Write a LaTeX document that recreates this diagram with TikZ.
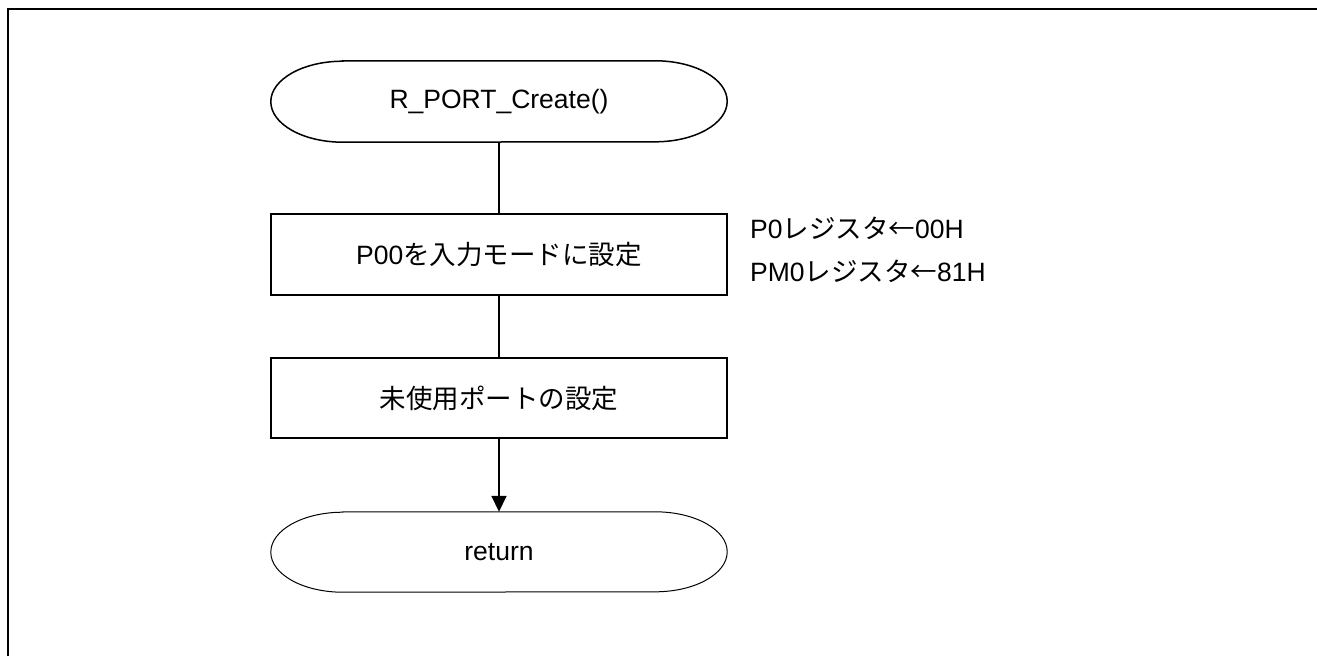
\documentclass[tikz,border=0pt]{standalone}
\usepackage{fontspec}
\setmainfont{Liberation Sans}
\newfontfamily\jp{Noto Sans CJK JP}
\usetikzlibrary{arrows.meta}

\tikzset{
  proc/.style={draw, line width=1.5pt, minimum width=456pt, minimum height=81pt, inner sep=0pt},
  term/.style={minimum width=456pt, minimum height=81pt, inner sep=0pt},
  flow/.style={line width=1.7pt},
  note/.style={anchor=west, inner sep=0pt}
}

\begin{document}
\begin{tikzpicture}[x=1pt, y=-1pt, font=\fontsize{26.5}{31}\selectfont]
		\useasboundingbox (0,0) rectangle (1317,656);
		\draw[line width=2.2pt] (8,656) -- (8,9) -- (1317,9);
		% start / end
		\node[term] (start) at (499,101.5) {R\_PORT\_Create()};
		\draw[line width=1.5pt] ([xshift=72pt]start.north west) -- ([xshift=-72pt]start.north east)
		      arc[start angle=90, end angle=-90, x radius=72pt, y radius=40.5pt]
		      -- ([xshift=72pt]start.south west)
		      arc[start angle=270, end angle=90, x radius=72pt, y radius=40.5pt] -- cycle;
		\node[term, minimum height=80pt] (ret) at (499,552) {return};
		\draw[line width=1pt] ([xshift=72pt]ret.north west) -- ([xshift=-72pt]ret.north east)
		      arc[start angle=90, end angle=-90, x radius=72pt, y radius=40pt]
		      -- ([xshift=72pt]ret.south west)
		      arc[start angle=270, end angle=90, x radius=72pt, y radius=40pt] -- cycle;
		% steps
		\node[proc] (setin) at (499,254.5) {P00{\jp を入力モードに設定}};
		\node[proc, minimum height=80pt] (unused) at (499,398) {{\jp 未使用ポートの設定}};
		\node[note] (p0) at (750,228) {P0{\jp レジスタ←}00H};
		\node[note] (pm0) at (750,271) {PM0{\jp レジスタ←}81H};
		% connectors
		\draw[flow] (start.south) -- (setin.north);
		\draw[flow] (setin.south) -- (unused.north);
		\draw[flow, -{Triangle[length=16pt, width=15pt]}] (unused.south) -- (ret.north);
\end{tikzpicture}
\end{document}
